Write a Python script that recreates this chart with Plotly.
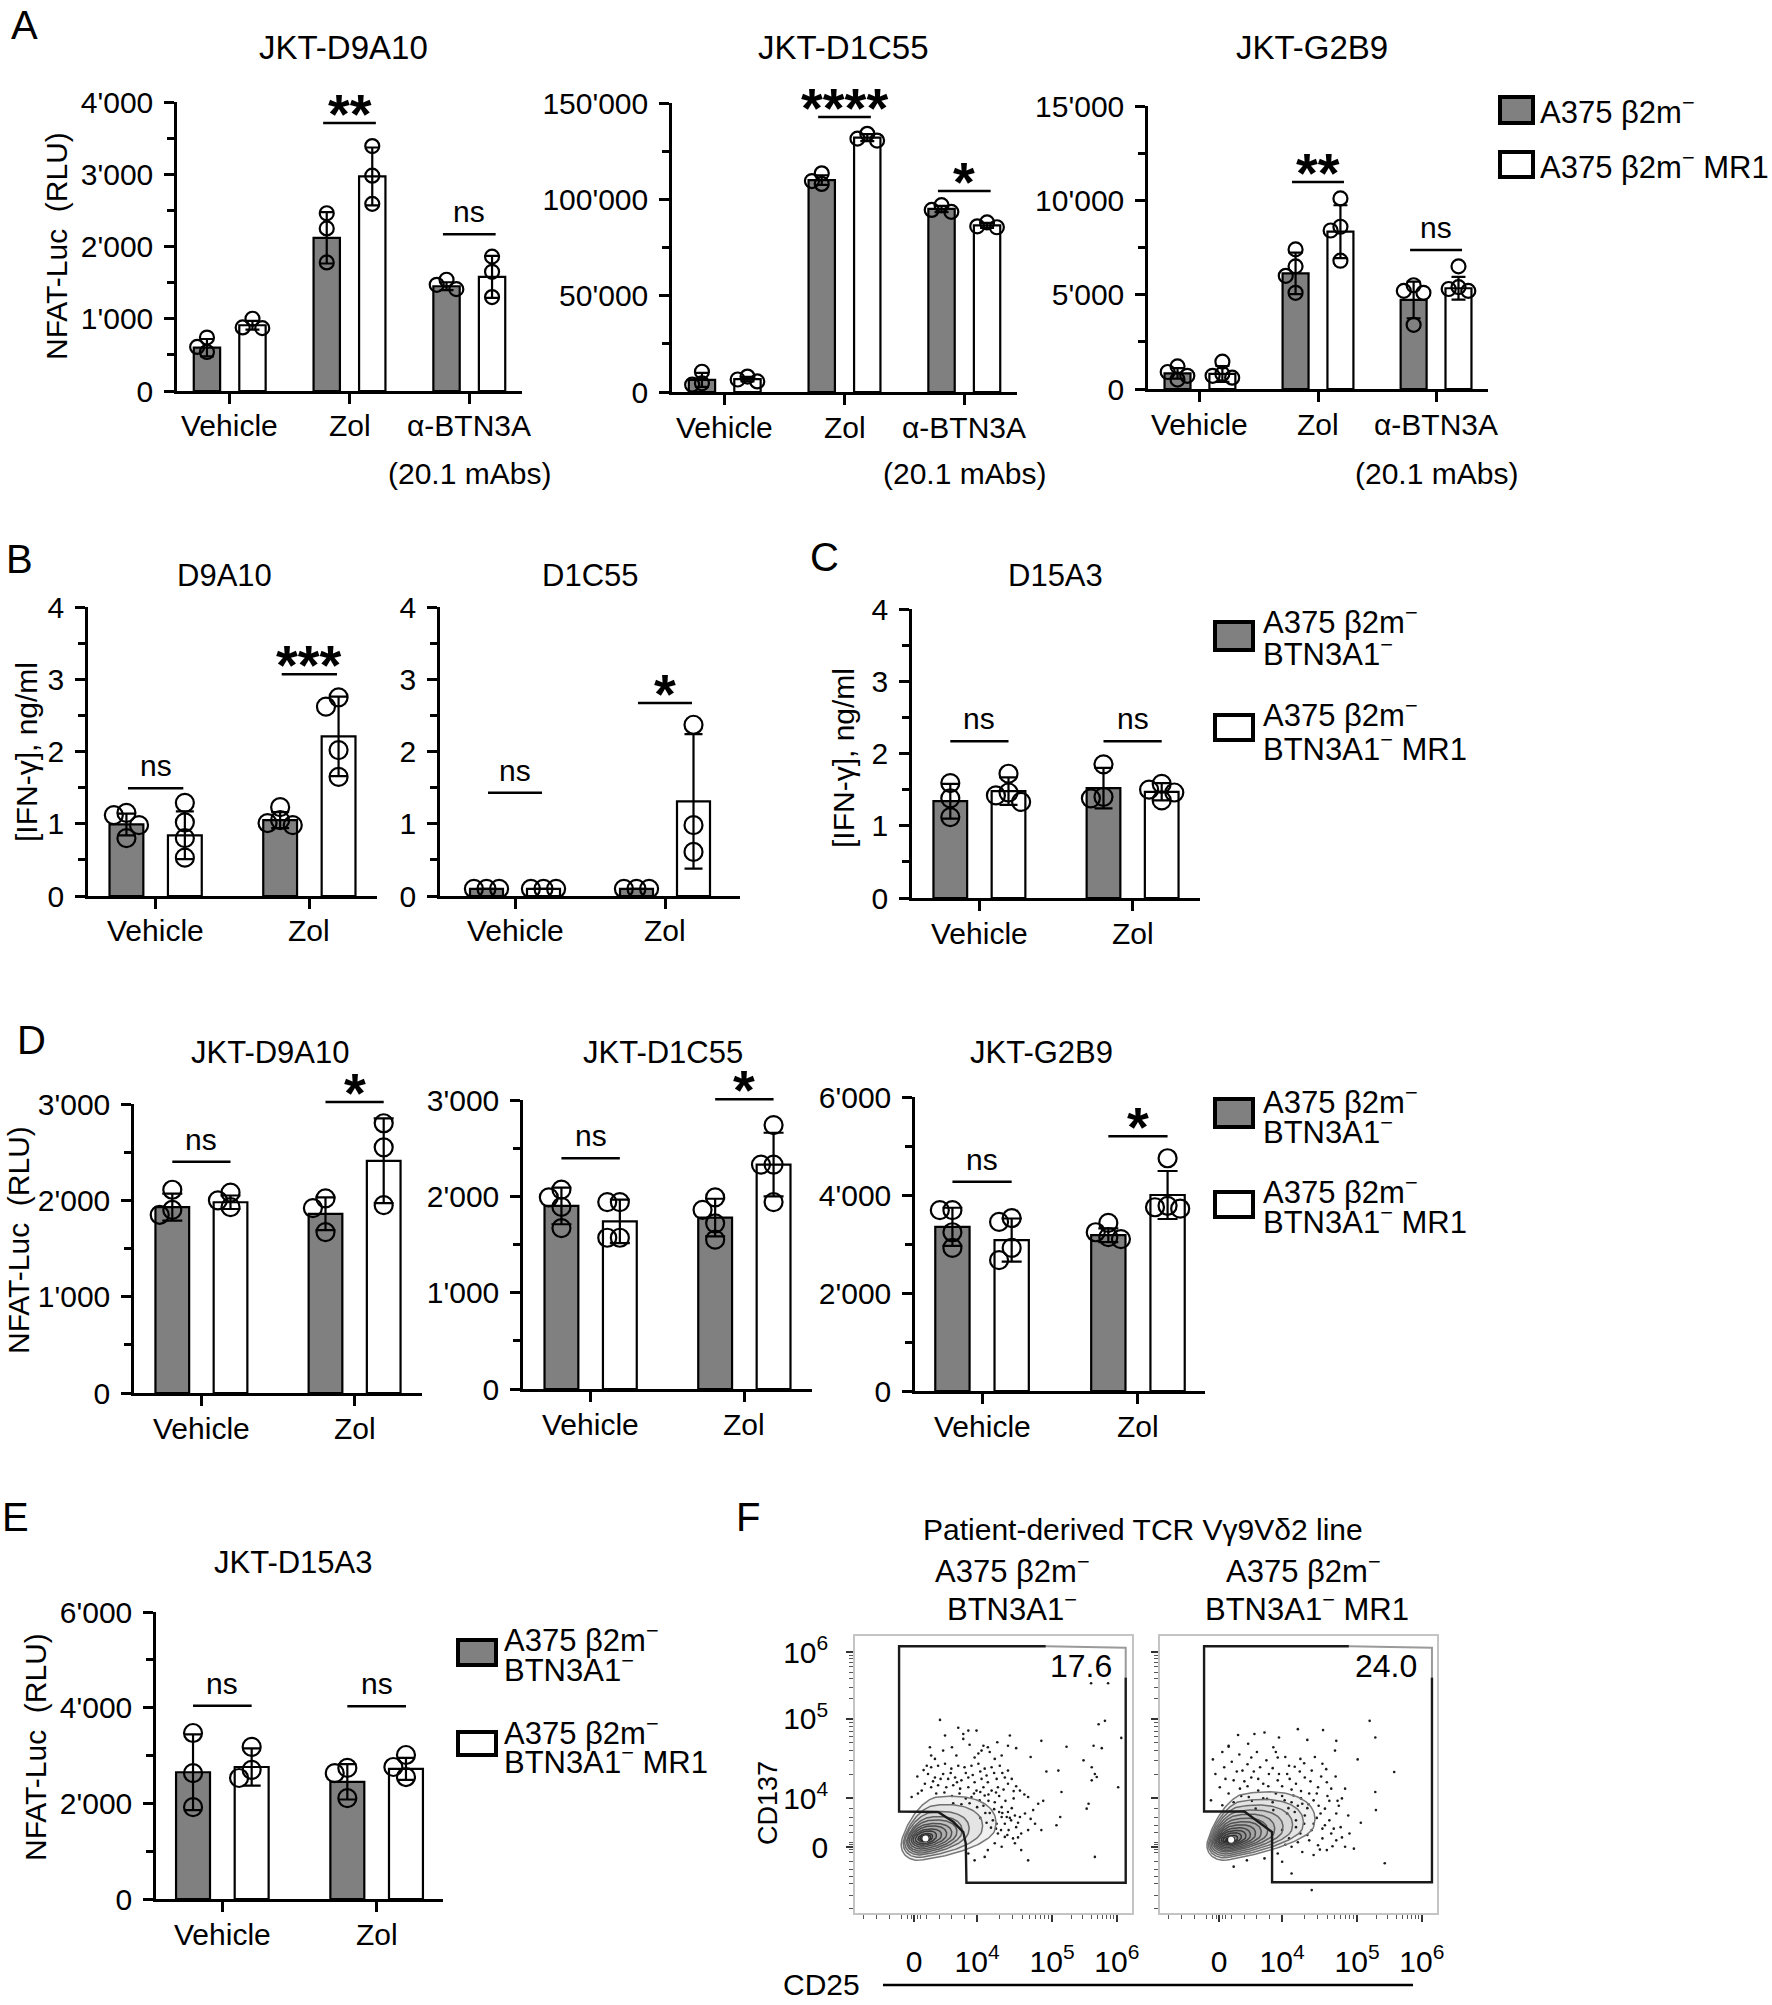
import numpy as np
import plotly.graph_objects as go

W, H = 1772, 2005
FONT = "Liberation Sans, Arial, Helvetica, sans-serif"
GRAY = "#808080"

# ------------------------------------------------------------------ data
CATS_A = ["Vehicle", "Zol", "α-BTN3A"]
CATS_2 = ["Vehicle", "Zol"]
CAT_A_NOTE = "(20.1 mAbs)"
YT_RLU = "NFAT-Luc\u00a0 (RLU)"
YT_IFN = "[IFN-γ], ng/ml"

LEG_A = ["A375 β2m<sup>−</sup>", "A375 β2m<sup>−</sup> MR1"]
LEG_BTN_1 = ["A375 β2m<sup>−</sup>", "BTN3A1<sup>−</sup>"]
LEG_BTN_2 = ["A375 β2m<sup>−</sup>", "BTN3A1<sup>−</sup> MR1"]

# Panel A
A1_TITLE = "JKT-D9A10"
A1_GRAY = [600, 2120, 1450]
A1_GRAY_SD = [120, 355, 55]
A1_GRAY_PTS = [[740, 540, 610], [2460, 2250, 1780], [1540, 1470, 1410]]
A1_WHITE = [910, 2970, 1580]
A1_WHITE_SD = [60, 400, 290]
A1_WHITE_PTS = [[1000, 880, 870], [3390, 2980, 2590], [1860, 1650, 1300]]
A1_SIG = ["", "**", "ns"]
A1_SIG_Y = [0, 3710, 2170]

A2_TITLE = "JKT-D1C55"
A2_GRAY = [6300, 110000, 95000]
A2_GRAY_SD = [3600, 2500, 1600]
A2_GRAY_PTS = [[10500, 4500, 3800], [113500, 109500, 108000], [97000, 94500, 93500]]
A2_WHITE = [6700, 132000, 86500]
A2_WHITE_SD = [1200, 1800, 1300]
A2_WHITE_PTS = [[8000, 6500, 5500], [134000, 131500, 130500], [88000, 86000, 85500]]
A2_SIG = ["", "****", "*"]
A2_SIG_Y = [0, 142700, 104300]

A3_TITLE = "JKT-G2B9"
A3_GRAY = [830, 6130, 4720]
A3_GRAY_SD = [280, 1100, 970]
A3_GRAY_PTS = [[1200, 900, 700, 500], [7400, 6500, 6000, 5100], [5500, 5200, 5100, 3400]]
A3_WHITE = [800, 8340, 5340]
A3_WHITE_SD = [420, 1400, 600]
A3_WHITE_PTS = [[1450, 800, 700, 600], [10100, 8600, 8400, 6800], [6500, 5400, 5300, 5200]]
A3_SIG = ["", "**", "ns"]
A3_SIG_Y = [0, 10970, 7370]

# Panel B
B1_TITLE = "D9A10"
B1_GRAY = [0.99, 1.05]
B1_GRAY_SD = [0.15, 0.11]
B1_GRAY_PTS = [[1.15, 1.12, 0.98, 0.80], [1.23, 1.05, 1.01, 0.98]]
B1_WHITE = [0.84, 2.21]
B1_WHITE_SD = [0.33, 0.55]
B1_WHITE_PTS = [[1.29, 1.02, 0.80, 0.53], [2.75, 2.62, 2.02, 1.65]]
B1_SIG = ["ns", "***"]
B1_SIG_Y = [1.49, 3.07]

B2_TITLE = "D1C55"
B2_GRAY = [0.1, 0.1]
B2_GRAY_SD = [0, 0]
B2_GRAY_PTS = [[0.1, 0.1, 0.1], [0.1, 0.1, 0.1]]
B2_WHITE = [0.1, 1.31]
B2_WHITE_SD = [0, 0.93]
B2_WHITE_PTS = [[0.1, 0.1, 0.1], [2.37, 0.98, 0.61]]
B2_SIG = ["ns", "*"]
B2_SIG_Y = [1.43, 2.67]

# Panel C
C_TITLE = "D15A3"
C_GRAY = [1.34, 1.52]
C_GRAY_SD = [0.24, 0.28]
C_GRAY_PTS = [[1.59, 1.38, 1.12], [1.85, 1.40, 1.38]]
C_WHITE = [1.48, 1.47]
C_WHITE_SD = [0.19, 0.12]
C_WHITE_PTS = [[1.72, 1.46, 1.42, 1.33], [1.58, 1.50, 1.46, 1.35]]
C_SIG = ["ns", "ns"]
C_SIG_Y = [2.17, 2.17]

# Panel D
D1_TITLE = "JKT-D9A10"
D1_GRAY = [1930, 1860]
D1_GRAY_SD = [140, 170]
D1_GRAY_PTS = [[2110, 1850, 1900], [2020, 1920, 1670]]
D1_WHITE = [1980, 2410]
D1_WHITE_SD = [70, 440]
D1_WHITE_PTS = [[1930, 2080, 2000], [2800, 2550, 1950]]
D1_SIG = ["ns", "*"]
D1_SIG_Y = [2400, 3020]

D2_TITLE = "JKT-D1C55"
D2_GRAY = [1900, 1780]
D2_GRAY_SD = [190, 195]
D2_GRAY_PTS = [[2070, 1990, 1890, 1670], [1990, 1860, 1720, 1550]]
D2_WHITE = [1740, 2330]
D2_WHITE_SD = [225, 330]
D2_WHITE_PTS = [[1940, 1940, 1570, 1570], [2740, 2330, 2330, 1940]]
D2_SIG = ["ns", "*"]
D2_SIG_Y = [2395, 3007]

D3_TITLE = "JKT-G2B9"
D3_GRAY = [3350, 3180]
D3_GRAY_SD = [390, 140]
D3_GRAY_PTS = [[3690, 3690, 3240, 2920], [3430, 3240, 3140, 3100]]
D3_WHITE = [3080, 4000]
D3_WHITE_SD = [440, 490]
D3_WHITE_PTS = [[3530, 3450, 2920, 2670], [4750, 3780, 3750, 3720]]
D3_SIG = ["ns", "*"]
D3_SIG_Y = [4270, 5200]

# Panel E
E_TITLE = "JKT-D15A3"
E_GRAY = [2650, 2450]
E_GRAY_SD = [790, 370]
E_GRAY_PTS = [[3470, 2630, 1920], [2740, 2630, 2110]]
E_WHITE = [2760, 2720]
E_WHITE_SD = [390, 230]
E_WHITE_PTS = [[3180, 2700, 2530], [3010, 2760, 2550]]
E_SIG = ["ns", "ns"]
E_SIG_Y = [4040, 4030]

# Panel F (flow cytometry, display-scale units)
F_TITLE = "Patient-derived TCR Vγ9Vδ2 line"
F_SUB_1 = ["A375 β2m<sup>−</sup>", "BTN3A1<sup>−</sup>"]
F_SUB_2 = ["A375 β2m<sup>−</sup>", "BTN3A1<sup>−</sup> MR1"]
F_PCT = ["17.6", "24.0"]
F_XLABEL = "CD25"
F_YLABEL = "CD137"
F_TICKTEXT = ["0", "10<sup>4</sup>", "10<sup>5</sup>", "10<sup>6</sup>"]
F_X_TICKS = [0, 1, 2.19, 3.22]
F_Y_TICKS = [0, 1, 2.63, 4.0]

F1_GATE_X = [2.09, -0.24, -0.24, 0.17, 0.38, 0.62, 0.78, 0.82, 0.83, 3.36, 3.36]
F1_GATE_Y = [4.12, 4.12, 0.73, 0.73, 0.72, 0.52, 0.31, 0.07, -0.73, -0.73, 3.48]
F1_GATE_LIGHT_X = [2.09, 3.36, 3.36]
F1_GATE_LIGHT_Y = [4.12, 4.09, 3.48]
F2_GATE_X = [2.06, -0.24, -0.24, 0.40, 0.84, 0.84, 3.38, 3.38]
F2_GATE_Y = [4.12, 4.12, 0.73, 0.73, 0.31, -0.72, -0.72, 3.48]
F2_GATE_LIGHT_X = [2.06, 3.38, 3.38]
F2_GATE_LIGHT_Y = [4.12, 4.09, 3.48]

F1_CORE = (0.18, 0.18)
F1_RING_LEFT = [-0.19, -0.16, -0.14, -0.11, -0.095, -0.07, -0.04, -0.015, 0.02, 0.06, 0.09, 0.12]
F1_RING_RIGHT = [1.28, 1.07, 0.86, 0.75, 0.67, 0.59, 0.51, 0.43, 0.35, 0.29, 0.26, 0.23]
F1_RING_BOTTOM = [-0.27, -0.21, -0.16, -0.12, -0.08, -0.04, 0.0, 0.04, 0.07, 0.11, 0.13, 0.15]
F1_RING_TOP = [1.03, 0.86, 0.72, 0.62, 0.55, 0.48, 0.43, 0.37, 0.33, 0.28, 0.25, 0.22]

F2_CORE = (0.19, 0.15)
F2_RING_LEFT = [-0.18, -0.16, -0.14, -0.12, -0.10, -0.08, -0.06, -0.04, -0.02, 0.0, 0.03, 0.06, 0.10, 0.13]
F2_RING_RIGHT = [1.50, 1.32, 1.15, 1.00, 0.87, 0.76, 0.66, 0.57, 0.49, 0.42, 0.35, 0.29, 0.24, 0.22]
F2_RING_BOTTOM = [-0.27, -0.22, -0.18, -0.14, -0.10, -0.07, -0.04, -0.01, 0.02, 0.05, 0.08, 0.10, 0.12, 0.13]
F2_RING_TOP = [1.10, 0.95, 0.84, 0.74, 0.66, 0.58, 0.51, 0.45, 0.39, 0.34, 0.29, 0.24, 0.20, 0.18]

F1_DOTS = [(0.41, 2.61), (0.49, 2.29), (0.78, 2.32), (0.86, 2.39), (0.99, 2.39), (0.78, 2.22), (1.52, 2.29),
           (1.49, 2.08), (1.62, 2.03), (2.02, 2.18), (1.10, 2.08), (1.17, 2.05), (1.07, 1.98), (0.46, 1.98),
           (0.27, 1.88), (0.33, 1.81), (0.67, 1.88), (0.96, 1.84), (1.28, 1.81), (1.39, 1.88), (0.20, 1.67),
           (0.27, 1.64), (0.38, 1.67), (0.49, 1.71), (0.59, 1.61), (0.70, 1.67), (0.80, 1.64), (0.91, 1.67),
           (1.02, 1.71), (1.12, 1.61), (1.23, 1.64), (1.36, 1.67), (1.49, 1.57), (0.22, 1.50), (0.33, 1.43),
           (0.46, 1.50), (0.54, 1.40), (0.65, 1.43), (0.75, 1.37), (0.86, 1.43), (0.96, 1.33), (1.07, 1.40),
           (1.17, 1.33), (1.31, 1.40), (1.44, 1.43), (0.17, 1.30), (0.27, 1.23), (0.38, 1.27), (0.51, 1.23),
           (0.62, 1.27), (0.73, 1.20), (0.86, 1.23), (0.99, 1.16), (1.10, 1.23), (1.23, 1.16), (1.33, 1.23),
           (1.49, 1.30), (1.68, 1.16), (1.81, 1.03), (1.97, 0.89), (-0.04, 1.03), (0.06, 1.10), (0.12, 1.16),
           (0.91, 1.03), (1.04, 0.96), (1.12, 1.06), (1.28, 0.92), (1.39, 0.82), (1.49, 0.72), (1.39, 0.62),
           (1.31, 0.48), (1.44, 0.48), (1.54, 0.55), (1.62, 0.41), (1.70, 0.28), (1.81, 0.35), (1.92, 0.48),
           (1.33, 0.28), (1.44, 0.21), (1.57, 0.18), (1.28, 0.08), (1.39, 0.01), (1.17, -0.06), (1.12, -0.20),
           (0.96, -0.27), (0.86, -0.13), (1.70, -0.06), (1.81, -0.27), (1.60, 0.08), (2.02, 0.35), (1.76, 0.69),
           (1.89, 0.76), (1.20, 0.70), (1.25, 0.55), (1.35, 0.72), (1.47, 0.62), (1.55, 0.80), (1.60, 0.65),
           (1.30, 0.38), (1.50, 0.35), (1.65, 0.50), (1.10, 0.85), (1.18, 0.95), (1.45, 0.95), (1.58, 1.00),
           (1.35, 1.05), (2.81, 3.36), (3.08, 3.36), (2.93, 2.52), (3.03, 2.59), (3.29, 2.24), (2.42, 2.06),
           (2.85, 2.08), (2.98, 2.03), (2.29, 1.57), (2.69, 1.78), (2.82, 1.64), (2.87, 1.50), (2.90, 1.44),
           (2.82, 1.37), (3.24, 1.23), (2.34, 1.13), (2.77, 0.89), (2.74, 0.79), (2.32, 0.62), (2.26, 0.45),
           (2.87, -0.20), (0.05, 1.45), (0.15, 1.58), (0.30, 1.35), (0.42, 1.40), (0.58, 1.52), (0.68, 1.33),
           (0.82, 1.52), (0.93, 1.48), (1.05, 1.55), (1.15, 1.47), (1.27, 1.52), (1.40, 1.52), (1.55, 1.40),
           (1.62, 1.25), (0.35, 1.10), (0.48, 1.12), (0.60, 1.05), (0.72, 1.10), (0.82, 1.00), (0.95, 1.10),
           (1.05, 1.13), (1.18, 1.08), (1.30, 1.12), (1.42, 1.18), (1.58, 1.15), (1.75, 1.08), (0.62, 0.90),
           (0.75, 0.88), (0.88, 0.90), (1.00, 0.82), (1.13, 0.70), (1.27, 0.78), (1.40, 0.70), (1.52, 0.60),
           (1.68, 0.62), (1.85, 0.58), (1.05, 0.60), (1.15, 0.50), (1.22, 0.40), (1.38, 0.35), (1.48, 0.25),
           (1.65, 0.20), (1.02, 1.92), (1.20, 1.95), (0.60, 2.05), (0.88, 2.10), (1.32, 2.15), (0.25, 2.05),
           (0.70, 2.45), (1.85, 1.85), (2.10, 1.55), (2.05, 0.95)]

F2_DOTS = [(2.39, 2.59), (2.48, 2.25), (1.25, 2.42), (0.72, 2.35), (1.86, 2.18), (0.15, 2.08), (2.78, 1.54),
           (2.48, 1.13), (2.49, 0.76), (2.63, -0.33), (2.14, -0.03), (1.47, -0.88), (1.15, -0.54), (0.23, -0.40),
           (1.00, -0.30), (1.84, 1.98), (0.86, 2.05), (0.51, 1.84), (1.47, 1.57), (1.11, 1.67), (1.71, 1.33),
           (-0.06, 1.50), (0.08, 1.64), (0.23, 1.37), (0.37, 1.57), (0.51, 1.43), (0.65, 1.64), (0.79, 1.50),
           (0.93, 1.37), (1.08, 1.50), (1.22, 1.30), (1.36, 1.43), (1.57, 1.23), (0.01, 1.23), (0.15, 1.10),
           (0.33, 1.20), (0.47, 1.03), (0.62, 1.16), (0.76, 0.99), (0.90, 1.10), (1.04, 0.96), (1.18, 1.06),
           (1.32, 0.89), (1.50, 0.96), (1.68, 0.79), (1.86, 0.69), (-0.13, 0.96), (0.05, 0.86), (0.23, 0.92),
           (0.58, 0.79), (0.86, 0.76), (1.08, 0.69), (1.22, 0.55), (1.36, 0.65), (1.50, 0.48), (1.64, 0.38),
           (1.78, 0.28), (1.93, 0.41), (1.29, 0.28), (1.43, 0.14), (1.57, 0.04), (1.71, -0.06), (1.15, 0.01),
           (1.32, -0.10), (1.50, -0.16), (0.93, -0.13), (1.86, 0.14), (2.00, 0.01), (2.07, 0.28), (1.64, 0.18),
           (1.47, 0.35), (1.22, 0.41), (1.11, 0.18), (1.00, 0.35), (1.61, 0.69), (1.75, 0.55), (1.43, 1.10),
           (0.93, 1.84), (1.29, 1.81), (1.64, 1.71), (0.44, -0.27), (0.72, -0.23), (0.15, 2.06), (0.46, 2.12),
           (0.56, 2.32), (0.40, 1.35), (0.70, 1.30), (1.00, 1.25), (0.55, 1.55), (0.85, 1.62), (1.15, 1.18),
           (1.25, 0.85), (1.40, 0.80), (1.10, 0.80), (1.30, 1.15), (1.55, 1.10), (1.75, 0.95), (1.90, 0.85),
           (-0.10, 1.80), (0.05, 1.95), (0.20, 1.75), (0.32, 1.90), (0.45, 1.70), (0.60, 1.95), (0.75, 1.78),
           (0.90, 1.95), (1.05, 1.85), (1.20, 1.65), (1.35, 1.72), (1.52, 1.85), (1.70, 1.60), (1.85, 1.45),
           (2.00, 1.20), (0.10, 1.40), (0.28, 1.55), (0.45, 1.25), (0.62, 1.40), (0.78, 1.25), (0.95, 1.50),
           (1.12, 1.40), (1.28, 1.55), (1.45, 1.35), (1.62, 1.45), (1.78, 1.20), (1.95, 1.00), (0.35, 1.05),
           (0.52, 0.95), (0.70, 1.00), (0.85, 0.92), (1.00, 1.05), (1.15, 0.92), (1.30, 1.00), (1.42, 0.88),
           (1.58, 0.85), (1.72, 1.05), (1.88, 0.95), (2.05, 0.65), (1.20, 0.72), (1.35, 0.48), (1.55, 0.60),
           (1.68, 0.45), (1.82, 0.38), (1.95, 0.20), (1.40, 0.25), (1.60, -0.05), (1.80, 0.02), (1.25, 0.10),
           (1.05, 0.05), (0.95, 2.25), (1.40, 2.20), (1.65, 2.40), (0.30, 2.30), (2.20, 1.80), (2.25, 0.50)]

# ------------------------------------------------------------------ styling / geometry
BAR_W = 0.22
BAR_OFF = 0.19
CAT_GAP = 35   # px from x-axis line to category label centre

PANELS = [
    dict(cats=CATS_A, title=A1_TITLE, g=A1_GRAY, gsd=A1_GRAY_SD, gp=A1_GRAY_PTS, w=A1_WHITE, wsd=A1_WHITE_SD,
         wp=A1_WHITE_PTS, sig=A1_SIG, sigy=A1_SIG_Y, px=(177, 522), py=(102, 391), ymax=4000, dtick=1000,
         minor=500, title_xy=(343, 47), tsize=33, ms=14, cap=7, sighw=0.22, lo=-0.44),
    dict(cats=CATS_A, title=A2_TITLE, g=A2_GRAY, gsd=A2_GRAY_SD, gp=A2_GRAY_PTS, w=A2_WHITE, wsd=A2_WHITE_SD,
         wp=A2_WHITE_PTS, sig=A2_SIG, sigy=A2_SIG_Y, px=(672, 1017), py=(103, 392), ymax=150000, dtick=50000,
         minor=25000, title_xy=(843, 47), tsize=33, ms=14, cap=7, sighw=0.22, lo=-0.44),
    dict(cats=CATS_A, title=A3_TITLE, g=A3_GRAY, gsd=A3_GRAY_SD, gp=A3_GRAY_PTS, w=A3_WHITE, wsd=A3_WHITE_SD,
         wp=A3_WHITE_PTS, sig=A3_SIG, sigy=A3_SIG_Y, px=(1148, 1488), py=(106, 389), ymax=15000, dtick=5000,
         minor=2500, title_xy=(1312, 47), tsize=33, ms=14, cap=7, sighw=0.22, lo=-0.44),
    dict(cats=CATS_2, title=B1_TITLE, g=B1_GRAY, gsd=B1_GRAY_SD, gp=B1_GRAY_PTS, w=B1_WHITE, wsd=B1_WHITE_SD,
         wp=B1_WHITE_PTS, sig=B1_SIG, sigy=B1_SIG_Y, px=(88, 377), py=(607, 896), ymax=4, dtick=1,
         minor=0.5, title_xy=(224, 575), tsize=31, ms=18, cap=9, sighw=0.18, lo=-0.44),
    dict(cats=CATS_2, title=B2_TITLE, g=B2_GRAY, gsd=B2_GRAY_SD, gp=B2_GRAY_PTS, w=B2_WHITE, wsd=B2_WHITE_SD,
         wp=B2_WHITE_PTS, sig=B2_SIG, sigy=B2_SIG_Y, px=(440, 740), py=(607, 896), ymax=4, dtick=1,
         minor=0.5, title_xy=(590, 575), tsize=31, ms=18, cap=9, sighw=0.18, lo=-0.5),
    dict(cats=CATS_2, title=C_TITLE, g=C_GRAY, gsd=C_GRAY_SD, gp=C_GRAY_PTS, w=C_WHITE, wsd=C_WHITE_SD,
         wp=C_WHITE_PTS, sig=C_SIG, sigy=C_SIG_Y, px=(912, 1200), py=(609, 898), ymax=4, dtick=1,
         minor=0.5, title_xy=(1055, 575), tsize=31, ms=18, cap=9, sighw=0.19, lo=-0.44),
    dict(cats=CATS_2, title=D1_TITLE, g=D1_GRAY, gsd=D1_GRAY_SD, gp=D1_GRAY_PTS, w=D1_WHITE, wsd=D1_WHITE_SD,
         wp=D1_WHITE_PTS, sig=D1_SIG, sigy=D1_SIG_Y, px=(134, 422), py=(1104, 1393), ymax=3000, dtick=1000,
         minor=500, title_xy=(270, 1052), tsize=31, ms=18, cap=10, sighw=0.19, lo=-0.44),
    dict(cats=CATS_2, title=D2_TITLE, g=D2_GRAY, gsd=D2_GRAY_SD, gp=D2_GRAY_PTS, w=D2_WHITE, wsd=D2_WHITE_SD,
         wp=D2_WHITE_PTS, sig=D2_SIG, sigy=D2_SIG_Y, px=(523, 812), py=(1100, 1389), ymax=3000, dtick=1000,
         minor=500, title_xy=(663, 1052), tsize=31, ms=18, cap=10, sighw=0.19, lo=-0.44),
    dict(cats=CATS_2, title=D3_TITLE, g=D3_GRAY, gsd=D3_GRAY_SD, gp=D3_GRAY_PTS, w=D3_WHITE, wsd=D3_WHITE_SD,
         wp=D3_WHITE_PTS, sig=D3_SIG, sigy=D3_SIG_Y, px=(915, 1205), py=(1097, 1391), ymax=6000, dtick=2000,
         minor=1000, title_xy=(1041, 1052), tsize=31, ms=18, cap=10, sighw=0.19, lo=-0.43),
    dict(cats=CATS_2, title=E_TITLE, g=E_GRAY, gsd=E_GRAY_SD, gp=E_GRAY_PTS, w=E_WHITE, wsd=E_WHITE_SD,
         wp=E_WHITE_PTS, sig=E_SIG, sigy=E_SIG_Y, px=(156, 443), py=(1612, 1899), ymax=6000, dtick=2000,
         minor=1000, title_xy=(293, 1562), tsize=31, ms=18, cap=9, sighw=0.19, lo=-0.43),
]


def pxx(p):
    return p / W


def pxy(p):
    return 1 - p / H


def axid(i):
    return ("x" if i == 1 else f"x{i}"), ("y" if i == 1 else f"y{i}")


def axkey(i):
    return ("xaxis" if i == 1 else f"xaxis{i}"), ("yaxis" if i == 1 else f"yaxis{i}")


def swarm(vals, center, ppu_x, ppu_y, diam):
    placed = []
    xs = [0.0] * len(vals)
    order = sorted(range(len(vals)), key=lambda i: -vals[i])
    step = 0.7 * diam
    mind = 0.7 * diam
    for i in order:
        ypx = vals[i] * ppu_y
        chosen = 0.0
        for k in [0, -1, 1, -2, 2, -3, 3]:
            xpx = k * step
            if all((xpx - a) ** 2 + (ypx - b) ** 2 >= mind ** 2 for a, b in placed):
                chosen = xpx
                break
        placed.append((chosen, ypx))
        xs[i] = center + chosen / ppu_x
    return xs


fig = go.Figure()
layout = {}
annotations = []
shapes = []


def txt(x, y, text, size=30, xanchor="center", yanchor="middle", angle=0, bold=False, color="black",
        xref="paper", yref="paper", yshift=0):
    t = f"<b>{text}</b>" if bold else text
    annotations.append(dict(x=x, y=y, xref=xref, yref=yref, text=t, showarrow=False, xanchor=xanchor,
                            yanchor=yanchor, textangle=angle, yshift=yshift,
                            font=dict(family=FONT, size=size, color=color)))


for idx, p in enumerate(PANELS, start=1):
    xa, ya = axid(idx)
    xk, yk = axkey(idx)
    n = len(p["cats"])
    lo = p["lo"]
    hi = n - 1 - lo
    ppu_x = (p["px"][1] - p["px"][0]) / (hi - lo)
    ppu_y = (p["py"][1] - p["py"][0]) / p["ymax"]
    for side, (means, sds, pts, col) in enumerate([(p["g"], p["gsd"], p["gp"], GRAY),
                                                    (p["w"], p["wsd"], p["wp"], "white")]):
        off = -BAR_OFF if side == 0 else BAR_OFF
        fig.add_trace(go.Bar(
            x=[k + off for k in range(n)], y=means, width=BAR_W,
            marker=dict(color=col, line=dict(color="black", width=2.2)),
            error_y=dict(type="data", array=sds, color="black", thickness=2.2, width=p["cap"]),
            xaxis=xa, yaxis=ya, showlegend=False, hoverinfo="skip"))
        sx, sy = [], []
        for k in range(n):
            sx += swarm(pts[k], k + off, ppu_x, ppu_y, p["ms"])
            sy += list(pts[k])
        fig.add_trace(go.Scatter(
            x=sx, y=sy, mode="markers", cliponaxis=False,
            marker=dict(symbol="circle-open", size=p["ms"], color="black", line=dict(width=2.2, color="black")),
            xaxis=xa, yaxis=ya, showlegend=False, hoverinfo="skip"))
    layout[xk] = dict(domain=[pxx(p["px"][0]), pxx(p["px"][1])], range=[lo, hi], anchor=ya,
                      tickmode="array", tickvals=list(range(n)), ticktext=p["cats"], showticklabels=False,
                      ticks="outside", ticklen=10, tickwidth=2.5, tickcolor="black", showline=True,
                      linewidth=2.5, linecolor="black", showgrid=False, zeroline=False, fixedrange=True)
    layout[yk] = dict(domain=[pxy(p["py"][1]), pxy(p["py"][0])], range=[0, p["ymax"]], anchor=xa,
                      tick0=0, dtick=p["dtick"], tickformat=",d" if p["ymax"] >= 1000 else "d",
                      ticks="outside", ticklen=10, tickwidth=2.5, tickcolor="black", showline=True,
                      linewidth=2.5, linecolor="black", showgrid=False, zeroline=False, fixedrange=True,
                      tickfont=dict(family=FONT, size=30, color="black"), ticklabelstandoff=5,
                      minor=dict(tick0=0, dtick=p["minor"], ticks="outside", ticklen=7, tickwidth=2.5,
                                 tickcolor="black", showgrid=False))
    # category labels under each tick
    for k, cat in enumerate(p["cats"]):
        txt(pxx(p["px"][0] + (k - lo) * ppu_x), pxy(p["py"][1] + CAT_GAP), cat, size=30)
    # significance brackets (figure coordinates computed from the data scale so they are never clipped)
    for k, (lab, hy) in enumerate(zip(p["sig"], p["sigy"])):
        if not lab:
            continue
        ypix = p["py"][1] - hy * ppu_y
        xl = p["px"][0] + (k - p["sighw"] - lo) * ppu_x
        xr = p["px"][0] + (k + p["sighw"] - lo) * ppu_x
        xc = p["px"][0] + (k - lo) * ppu_x
        shapes.append(dict(type="line", xref="paper", yref="paper", x0=pxx(xl), x1=pxx(xr), y0=pxy(ypix),
                           y1=pxy(ypix), line=dict(color="black", width=2.5)))
        if "*" in lab:
            txt(pxx(xc), pxy(ypix), lab, size=56, bold=True, yanchor="bottom", yshift=-24)
        else:
            txt(pxx(xc), pxy(ypix), lab, size=30, yanchor="bottom", yshift=4)
    txt(pxx(p["title_xy"][0]), pxy(p["title_xy"][1]), p["title"], size=p["tsize"])
    if n == 3:
        txt(pxx(p["px"][0] + (2 - lo) * ppu_x), pxy(473), CAT_A_NOTE, size=30)

# y-axis titles
for (x, y, t) in [(56, 246, YT_RLU), (26, 752, YT_IFN), (843, 758, YT_IFN), (18, 1240, YT_RLU), (35, 1747, YT_RLU)]:
    txt(pxx(x), pxy(y), t, size=30, angle=-90)

# panel letters
for (x, y, t) in [(24, 25, "A"), (19, 559, "B"), (824, 557, "C"), (31, 1040, "D"), (15, 1517, "E"), (748, 1517, "F")]:
    txt(pxx(x), pxy(y), t, size=40)


def legend_box(x0, y0, x1, y1, fill):
    shapes.append(dict(type="rect", xref="paper", yref="paper", x0=pxx(x0), x1=pxx(x1), y0=pxy(y1), y1=pxy(y0),
                       fillcolor=fill, line=dict(color="black", width=4)))


# legend A
legend_box(1500, 97, 1533, 123, GRAY)
legend_box(1500, 152, 1533, 177, "white")
txt(pxx(1538), pxy(110), LEG_A[0], size=31, xanchor="left")
txt(pxx(1538), pxy(165), LEG_A[1], size=31, xanchor="left")

# two-line legends (C, D, E)
for (bx, tx, b1, b2, lines) in [
    (1215, 1261, (622, 650), (715, 740), (620, 652, 713, 747)),
    (1215, 1261, (1099, 1127), (1192, 1217), (1100, 1130, 1190, 1220)),
    (458, 502, (1640, 1665), (1732, 1755), (1638, 1668, 1731, 1760)),
]:
    legend_box(bx, b1[0], bx + 38, b1[1], GRAY)
    legend_box(bx, b2[0], bx + 38, b2[1], "white")
    txt(pxx(tx), pxy(lines[0]), LEG_BTN_1[0], size=31, xanchor="left")
    txt(pxx(tx), pxy(lines[1]), LEG_BTN_1[1], size=31, xanchor="left")
    txt(pxx(tx), pxy(lines[2]), LEG_BTN_2[0], size=31, xanchor="left")
    txt(pxx(tx), pxy(lines[3]), LEG_BTN_2[1], size=31, xanchor="left")


# ------------------------------------------------------------------ panel F
def ring(core, left, right, bottom, top, hshear=0.25, vtilt=0.15, n=160):
    cx, cy = core
    t = np.linspace(0, 2 * np.pi, n)
    c, s = np.cos(t), np.sin(t)
    rx = np.where(c >= 0, right - cx, cx - left)
    ry = np.where(s >= 0, top - cy, cy - bottom)
    x = cx + rx * c
    y = cy + ry * s
    x2 = x + hshear * (y - cy)
    y2 = y + vtilt * np.maximum(x - cx, 0)
    return x2, y2


def log_minor(a, b):
    return [a + (b - a) * np.log10(k) for k in range(2, 10)]


FX_MINOR = [-0.8, -0.6, -0.4, -0.2, -0.1, -0.05, 0.05, 0.1, 0.2, 0.4, 0.6, 0.8] + log_minor(1, 2.19) + log_minor(2.19, 3.22)
FY_MINOR = [-1.25, -1.0, -0.75, -0.6, -0.45, -0.3, -0.1, -0.05, 0.05, 0.1, 0.3, 0.45, 0.6, 0.8] + log_minor(1, 2.63) + log_minor(2.63, 4.0)

F_SPECS = [
    dict(px=(855, 1132), gx=F1_GATE_X, gy=F1_GATE_Y, lx=F1_GATE_LIGHT_X, ly=F1_GATE_LIGHT_Y, core=F1_CORE,
         rl=F1_RING_LEFT, rr=F1_RING_RIGHT, rb=F1_RING_BOTTOM, rt=F1_RING_TOP, dots=F1_DOTS, pct=F_PCT[0],
         labels=True, vtilt=0.15),
    dict(px=(1160, 1437), gx=F2_GATE_X, gy=F2_GATE_Y, lx=F2_GATE_LIGHT_X, ly=F2_GATE_LIGHT_Y, core=F2_CORE,
         rl=F2_RING_LEFT, rr=F2_RING_RIGHT, rb=F2_RING_BOTTOM, rt=F2_RING_TOP, dots=F2_DOTS, pct=F_PCT[1],
         labels=False, vtilt=0.2),
]

for j, fs in enumerate(F_SPECS):
    idx = 11 + j
    xa, ya = axid(idx)
    xk, yk = axkey(idx)
    fig.add_trace(go.Scatter(x=[d[0] for d in fs["dots"]], y=[d[1] for d in fs["dots"]], mode="markers",
                             marker=dict(size=2.6, color="#1a1a1a"), xaxis=xa, yaxis=ya, showlegend=False,
                             hoverinfo="skip"))
    nr = len(fs["rl"])
    for r in range(nr):
        xr, yr = ring(fs["core"], fs["rl"][r], fs["rr"][r], fs["rb"][r], fs["rt"][r], vtilt=fs["vtilt"])
        shade = int(120 - 85 * r / max(nr - 1, 1))
        fig.add_trace(go.Scatter(x=xr, y=yr, mode="lines", fill="toself", fillcolor="rgba(60,60,60,0.07)",
                                 line=dict(color=f"rgb({shade},{shade},{shade})", width=1.5),
                                 xaxis=xa, yaxis=ya, showlegend=False, hoverinfo="skip"))
    fig.add_trace(go.Scatter(x=[fs["core"][0]], y=[fs["core"][1]], mode="markers",
                             marker=dict(size=6, color="white"), xaxis=xa, yaxis=ya, showlegend=False,
                             hoverinfo="skip"))
    fig.add_trace(go.Scatter(x=fs["lx"], y=fs["ly"], mode="lines", line=dict(color="#9a9a9a", width=2),
                             xaxis=xa, yaxis=ya, showlegend=False, hoverinfo="skip"))
    fig.add_trace(go.Scatter(x=fs["gx"], y=fs["gy"], mode="lines", line=dict(color="#1a1a1a", width=2.4),
                             xaxis=xa, yaxis=ya, showlegend=False, hoverinfo="skip"))
    txt(2.65, 3.71, fs["pct"], size=32, xref=xa, yref=ya)
    layout[xk] = dict(domain=[pxx(fs["px"][0]), pxx(fs["px"][1])], range=[-0.94, 3.46], anchor=ya,
                      showline=True, mirror=True, linecolor="#c4c4c4", linewidth=1.6, showgrid=False,
                      zeroline=False, fixedrange=True, ticks="outside", ticklen=7, tickwidth=1.6,
                      tickcolor="#333", tickmode="array", tickvals=F_X_TICKS, ticktext=F_TICKTEXT,
                      tickfont=dict(family=FONT, size=30, color="black"), ticklabelstandoff=14,
                      minor=dict(tickmode="array", tickvals=FX_MINOR, ticks="outside", ticklen=4, tickwidth=1.2,
                                 tickcolor="#555", showgrid=False))
    layout[yk] = dict(domain=[pxy(1913), pxy(1636)], range=[-1.35, 4.33], anchor=xa,
                      showline=True, mirror=True, linecolor="#c4c4c4", linewidth=1.6, showgrid=False,
                      zeroline=False, fixedrange=True, ticks="outside", ticklen=7, tickwidth=1.6,
                      tickcolor="#333", tickmode="array", tickvals=F_Y_TICKS, ticktext=F_TICKTEXT,
                      showticklabels=fs["labels"], tickfont=dict(family=FONT, size=30, color="black"),
                      ticklabelstandoff=12,
                      minor=dict(tickmode="array", tickvals=FY_MINOR, ticks="outside", ticklen=4, tickwidth=1.2,
                                 tickcolor="#555", showgrid=False))

txt(pxx(1143), pxy(1529), F_TITLE, size=30)
txt(pxx(1012), pxy(1569), F_SUB_1[0], size=31)
txt(pxx(1012), pxy(1607), F_SUB_1[1], size=31)
txt(pxx(1303), pxy(1569), F_SUB_2[0], size=31)
txt(pxx(1307), pxy(1607), F_SUB_2[1], size=31)
txt(pxx(768), pxy(1803), F_YLABEL, size=27, angle=-90)
txt(pxx(821), pxy(1984), F_XLABEL, size=30)
shapes.append(dict(type="line", xref="paper", yref="paper", x0=pxx(883), x1=pxx(1413), y0=pxy(1985),
                   y1=pxy(1985), line=dict(color="black", width=2.5)))

fig.update_layout(
    width=W, height=H, margin=dict(l=0, r=0, t=0, b=0, autoexpand=False),
    paper_bgcolor="white", plot_bgcolor="rgba(0,0,0,0)",
    font=dict(family=FONT, color="black"), separators=".'",
    showlegend=False, barmode="overlay",
    annotations=annotations, shapes=shapes, **layout)

fig.write_html("out.html", config={"displayModeBar": False},
               post_script="document.body.style.margin='0px';document.body.style.overflow='hidden';")
